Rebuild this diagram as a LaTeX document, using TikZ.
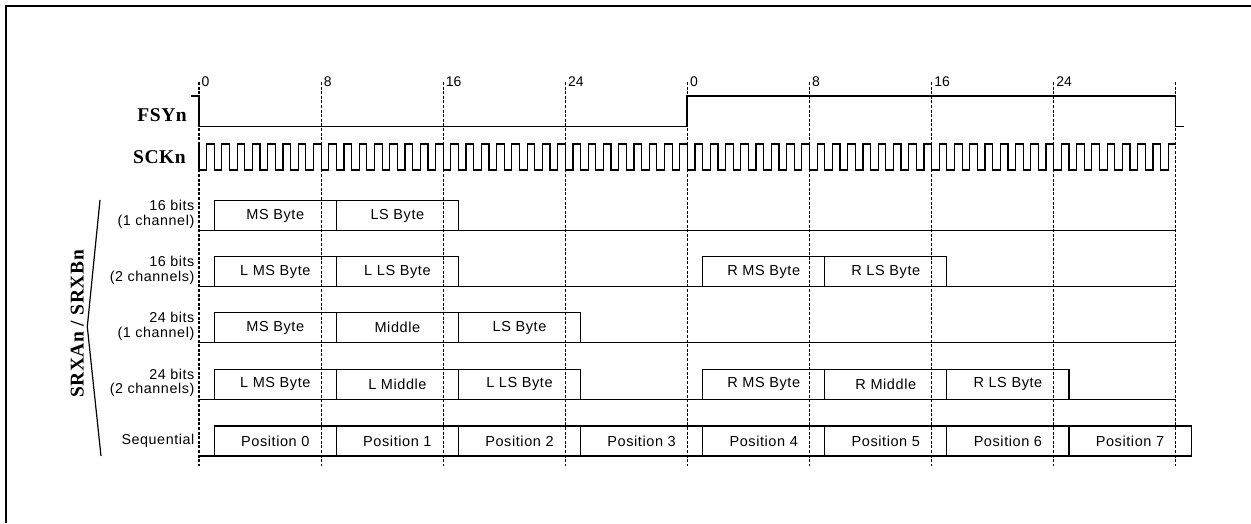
\documentclass[tikz,border=0pt]{standalone}
\usepackage{fontspec}
\setmainfont{Liberation Sans}
\newfontfamily\sanssp[LetterSpace=4]{Liberation Sans}
\newfontfamily\serifbold[LetterSpace=3]{Liberation Serif}
\begin{document}
\begin{tikzpicture}[x=1pt,y=-1pt,
  frame/.style={line width=2.4pt},
  sig/.style={line width=1.2pt},
  gridline/.style={dash pattern=on 3pt off 1.6pt, line width=1.1pt},
  cell/.style={draw, line width=1.1pt, minimum width=122.1pt, minimum height=30pt, inner sep=0pt, font=\fontsize{14.5}{15}\sanssp},
  rowlab/.style={align=right, anchor=east, inner sep=0pt, font=\fontsize{14.3}{14.5}\sanssp},
  siglab/.style={anchor=east, inner sep=0pt, font=\fontsize{19.5}{20}\serifbold\bfseries},
  ticklab/.style={anchor=base west, inner sep=0pt, font=\fontsize{14}{14}\selectfont}]
\useasboundingbox (0,0) rectangle (1251,523);
% frame
\draw[frame] (6,523) -- (6,6) -- (1251,6);
% dashed grid lines and tick labels
\foreach \i/\t in {0/0,1/8,2/16,3/24,4/0,5/8,6/16,7/24,8/{}}{
  \pgfmathsetmacro{\gx}{199+\i*122.1}
  \coordinate (gt\i) at (\gx,82);
  \coordinate (gb\i) at (\gx,466);
  \draw[gridline] (gt\i) -- (gb\i);
  \node[ticklab] (tl\i) at (\gx+2.5,86.5) {\t};
}
% signal labels
\node[siglab] (fsy) at (187,115) {FSYn};
\node[siglab] (sck) at (186,157) {SCKn};
% FSYn waveform
\coordinate (f0) at (191,96);
\coordinate (f1) at (199,96);
\coordinate (f2) at (199,126.7);
\coordinate (f3) at (687,126.7);
\coordinate (f4) at (687,96);
\coordinate (f5) at (1175.7,96);
\coordinate (f6) at (1175.7,126.7);
\coordinate (f7) at (1184,126.7);
\draw[sig] (f0) -- (f1) -- (f2) -- (f3) -- (f4) -- (f5) -- (f6) -- (f7);
% SCKn clock
\coordinate (c0) at (199,144);
\draw[sig] (c0) \foreach \k in {1,...,64}{ -- ++(0,26) -- ++(7.63125,0) -- ++(0,-26) -- ++(7.63125,0)};
% data rows
\foreach \r/\yb in {1/230.7,2/286.7,3/342.7,4/399.3}{
  \coordinate (bl\r) at (199,\yb);
  \coordinate (br\r) at (1175.7,\yb);
  \draw[sig] (bl\r) -- (br\r);
}
\coordinate (bl5) at (199,456);
\coordinate (br5) at (1191.1,456);
\draw[sig] (bl5) -- (br5);
% row 1
\node[cell] (r1a) at (275.3,215.7) {MS Byte};
\node[cell] (r1b) at (397.4,215.7) {LS Byte};
% row 2
\node[cell] (r2a) at (275.3,271.7) {L MS Byte};
\node[cell] (r2b) at (397.4,271.7) {L LS Byte};
\node[cell] (r2e) at (763.7,271.7) {R MS Byte};
\node[cell] (r2f) at (885.8,271.7) {R LS Byte};
% row 3
\node[cell] (r3a) at (275.3,327.7) {MS Byte};
\node[cell] (r3b) at (397.4,327.7) {Middle};
\node[cell] (r3c) at (519.5,327.7) {LS Byte};
% row 4
\node[cell] (r4a) at (275.3,384.3) {L MS Byte};
\node[cell] (r4b) at (397.4,384.3) {L Middle};
\node[cell] (r4c) at (519.5,384.3) {L LS Byte};
\node[cell] (r4e) at (763.7,384.3) {R MS Byte};
\node[cell] (r4f) at (885.8,384.3) {R Middle};
\node[cell] (r4g) at (1007.9,384.3) {R LS Byte};
% row 5
\foreach \j in {0,...,7}{
  \node[cell] (r5\j) at (275.3+\j*122.1,441) {Position \j};
}
% row labels
\node[rowlab] (l1) at (194.5,214.5) {16 bits\\(1 channel)};
\node[rowlab] (l2) at (194.5,270.5) {16 bits\\(2 channels)};
\node[rowlab] (l3) at (194.5,326.5) {24 bits\\(1 channel)};
\node[rowlab] (l4) at (194.5,383) {24 bits\\(2 channels)};
\node[rowlab] (l5) at (194.5,441) {Sequential};
% bracket
\coordinate (bt) at (100,200);
\coordinate (bm) at (87.3,326.7);
\coordinate (bb) at (101,456);
\draw[line width=1.2pt] (bt) -- (bm) -- (bb);
\node[siglab, anchor=center, rotate=90] (srx) at (77.3,324) {SRXAn / SRXBn};
\end{tikzpicture}
\end{document}
